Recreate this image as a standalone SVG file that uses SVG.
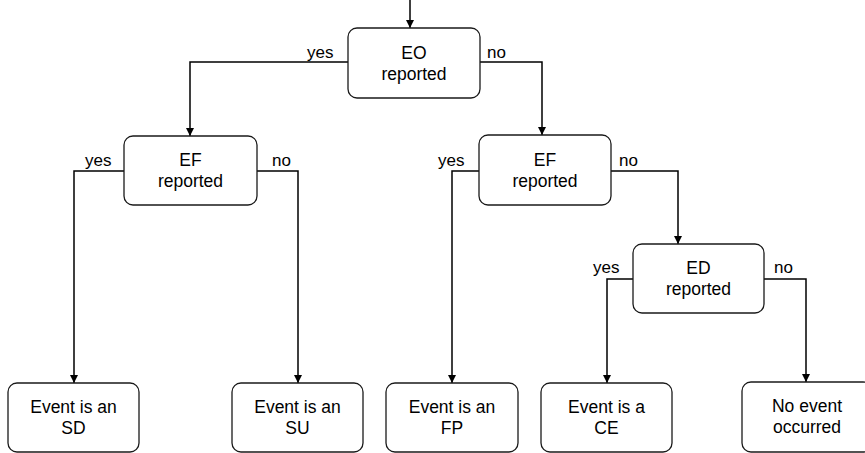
<svg xmlns="http://www.w3.org/2000/svg" width="865" height="453" viewBox="0 0 865 453">
<style>
.box{fill:#fff;stroke:#1a1a1a;stroke-width:1.3}
.t{font-family:"Liberation Sans",Arial,sans-serif;font-size:17.5px;fill:#000;text-anchor:middle}
.l{font-family:"Liberation Sans",Arial,sans-serif;font-size:17px;fill:#000}
.c{fill:none;stroke:#000;stroke-width:1.5}
</style>
<defs>
<marker id="ah" markerWidth="8" markerHeight="8" refX="8" refY="4" orient="auto" markerUnits="userSpaceOnUse">
<path d="M0,0 L8,4 L0,8 Z" fill="#000"/>
</marker>
</defs>
<rect width="865" height="453" fill="#fff"/>
<g id="connectors">
<path class="c" d="M410,0 V28" marker-end="url(#ah)"/>
<path class="c" d="M348,62 H190 V136" marker-end="url(#ah)"/>
<path class="c" d="M480,62 H542 V135" marker-end="url(#ah)"/>
<path class="c" d="M124,171 H74 V383" marker-end="url(#ah)"/>
<path class="c" d="M257,171 H298 V383" marker-end="url(#ah)"/>
<path class="c" d="M479,171 H452 V383" marker-end="url(#ah)"/>
<path class="c" d="M611,171 H678 V244" marker-end="url(#ah)"/>
<path class="c" d="M633,279 H607 V383" marker-end="url(#ah)"/>
<path class="c" d="M764,279 H806 V382" marker-end="url(#ah)"/>
<text class="l" x="307" y="58">yes</text>
<text class="l" x="487" y="58">no</text>
<text class="l" x="85" y="166">yes</text>
<text class="l" x="272" y="166">no</text>
<text class="l" x="438" y="166">yes</text>
<text class="l" x="619" y="166">no</text>
<text class="l" x="593" y="273">yes</text>
<text class="l" x="774" y="273">no</text>
</g>
<g id="eo">
<rect class="box" x="348" y="28" width="132" height="70" rx="9"/>
<text class="t" x="414" y="59">EO</text>
<text class="t" x="414" y="80">reported</text>
</g>
<g id="ef1">
<rect class="box" x="124" y="136" width="133" height="69" rx="9"/>
<text class="t" x="190.5" y="166">EF</text>
<text class="t" x="190.5" y="187">reported</text>
</g>
<g id="ef2">
<rect class="box" x="479" y="135" width="132" height="70" rx="9"/>
<text class="t" x="545" y="166">EF</text>
<text class="t" x="545" y="187">reported</text>
</g>
<g id="ed">
<rect class="box" x="633" y="244" width="131" height="69" rx="9"/>
<text class="t" x="698.5" y="274">ED</text>
<text class="t" x="698.5" y="295">reported</text>
</g>
<g id="sd">
<rect class="box" x="8" y="383" width="131" height="69" rx="9"/>
<text class="t" x="73.5" y="413">Event is an</text>
<text class="t" x="73.5" y="434">SD</text>
</g>
<g id="su">
<rect class="box" x="232" y="383" width="131" height="69" rx="9"/>
<text class="t" x="297.5" y="413">Event is an</text>
<text class="t" x="297.5" y="434">SU</text>
</g>
<g id="fp">
<rect class="box" x="386" y="383" width="132" height="69" rx="9"/>
<text class="t" x="452" y="413">Event is an</text>
<text class="t" x="452" y="434">FP</text>
</g>
<g id="ce">
<rect class="box" x="541" y="383" width="131" height="69" rx="9"/>
<text class="t" x="606.5" y="413">Event is a</text>
<text class="t" x="606.5" y="434">CE</text>
</g>
<g id="noevent">
<rect class="box" x="742" y="382" width="130" height="70" rx="9"/>
<text class="t" x="807" y="412">No event</text>
<text class="t" x="807" y="433">occurred</text>
</g>
</svg>
